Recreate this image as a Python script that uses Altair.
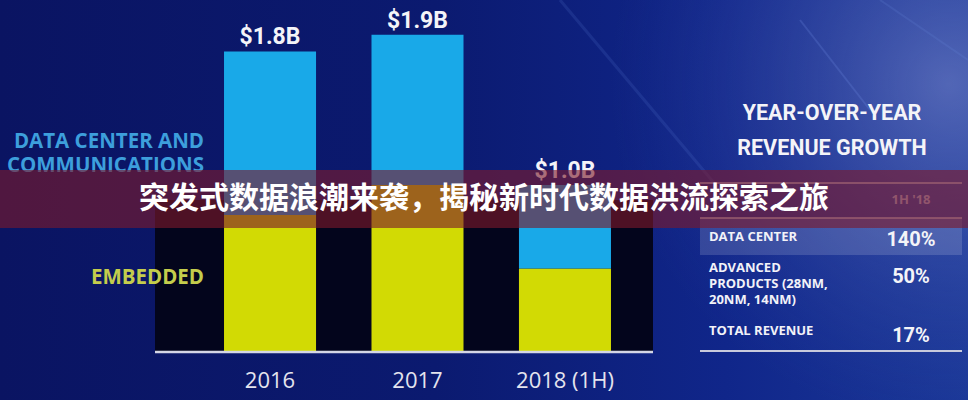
import altair as alt
import pandas as pd

# Revenue by segment, in billions of dollars
years = ["2016", "2017", "2018 (1H)"]
embedded = [0.82, 1.00, 0.50]
data_center = [0.98, 0.90, 0.50]
segments = ["EMBEDDED", "DATA CENTER AND COMMUNICATIONS"]
segment_labels = [["EMBEDDED"], ["DATA CENTER AND", "COMMUNICATIONS"]]

# Year-over-year growth table
growth_heading = ["YEAR-OVER-YEAR", "REVENUE GROWTH"]
growth_period = "1H '18"
growth_metrics = [["DATA CENTER"], ["ADVANCED", "PRODUCTS (28NM,", "20NM, 14NM)"], ["TOTAL REVENUE"]]
growth_values = ["140%", "50%", "17%"]

headline = "突发式数据浪潮来袭，揭秘新时代数据洪流探索之旅"

YELLOW = "#d2da04"
BLUE = "#19a9e8"
NARROW = "Roboto"
SANS = "Open Sans"

rows = []
for i, yr in enumerate(years):
    rows.append({"year": yr, "segment": segments[0], "value": embedded[i], "ord": 0})
    rows.append({"year": yr, "segment": segments[1], "value": data_center[i], "ord": 1})
bar_df = pd.DataFrame(rows)

totals = [e + d for e, d in zip(embedded, data_center)]
total_df = pd.DataFrame({
    "year": years,
    "total": totals,
    "label": [f"${t:.1f}B" for t in totals],
})

x_scale = alt.Scale(domain=years, range=[155, 680], paddingInner=0.376, paddingOuter=0.468)
y_scale = alt.Scale(domain=[0, 2.0], range=[352, 18])

one = alt.Data(values=[{"k": 0}])


def deco_rect(x, x2, y, y2, **kw):
    return alt.Chart(one).mark_rect(**kw).encode(
        x=alt.value(x), x2=alt.value(x2), y=alt.value(y), y2=alt.value(y2))


def deco_rule(x, x2, y, y2=None, **kw):
    enc = dict(x=alt.value(x), x2=alt.value(x2), y=alt.value(y))
    if y2 is not None:
        enc["y2"] = alt.value(y2)
    return alt.Chart(one).mark_rule(**kw).encode(**enc)


def deco_text(text, x, y, **kw):
    return alt.Chart(one).mark_text(text=text, **kw).encode(x=alt.value(x), y=alt.value(y))


# Backdrop: deep navy, brightening toward the right, with a soft glow
backdrop = deco_rect(0, 968, 0, 400, color=alt.LinearGradient(
    gradient="linear", x1=0, x2=1, y1=0, y2=0,
    stops=[alt.GradientStop(color="#0a1462", offset=0),
           alt.GradientStop(color="#0b1a70", offset=0.45),
           alt.GradientStop(color="#10268a", offset=0.75),
           alt.GradientStop(color="#1b3898", offset=1)]))
glow = deco_rect(0, 968, 0, 400, color=alt.RadialGradient(
    gradient="radial", x1=0.98, y1=0.38, x2=0.98, y2=0.38, r1=0, r2=0.35,
    stops=[alt.GradientStop(color="rgba(150,160,220,0.45)", offset=0),
           alt.GradientStop(color="rgba(60,80,170,0.0)", offset=1)]))
streaks = alt.layer(
    deco_rule(560, 720, 0, 190, color="#5a78d0", opacity=0.18, strokeWidth=3),
    deco_rule(800, 870, 20, 110, color="#6a88e0", opacity=0.25, strokeWidth=2),
    deco_rule(880, 968, 0, 60, color="#6a88e0", opacity=0.18, strokeWidth=2),
)
panel = deco_rect(155, 653, 200, 352, color="#03051c")

bars = alt.Chart(bar_df).mark_bar().encode(
    x=alt.X("year:N", sort=years, scale=x_scale, axis=None),
    y=alt.Y("value:Q", stack="zero", scale=y_scale, axis=None),
    color=alt.Color("segment:N", scale=alt.Scale(domain=segments, range=[YELLOW, BLUE]), legend=None),
    order=alt.Order("ord:Q"),
)

baseline = deco_rule(155, 653, 352, color="#d4d6e6", strokeWidth=2.5)

value_labels = alt.Chart(total_df).mark_text(
    font=NARROW, fontWeight="bold", fontSize=23, color="#f4f4f8",
    baseline="alphabetic", dy=-7,
).encode(
    x=alt.X("year:N", sort=years, scale=x_scale, axis=None),
    y=alt.Y("total:Q", scale=y_scale, axis=None),
    text="label:N",
)

year_labels = alt.Chart(total_df).mark_text(
    font=SANS, fontSize=22, color="#e4e4ee", baseline="middle",
).encode(
    x=alt.X("year:N", sort=years, scale=x_scale, axis=None),
    y=alt.value(381),
    text="year:N",
)

seg_dc = deco_text(segment_labels[1], 204, 142, font=SANS, fontWeight="bold", fontSize=20.5,
                   color="#3d9fdc", align="right", baseline="middle", lineHeight=24)
seg_emb = deco_text(segment_labels[0], 204, 278, font=SANS, fontWeight="bold", fontSize=20.5,
                    color="#c4cd4c", align="right", baseline="middle")

# Growth table
heading = deco_text(growth_heading, 832, 114, font=NARROW, fontWeight="bold", fontSize=21.5,
                    color="#f4f4f8", align="center", baseline="middle", lineHeight=35)
period = deco_text(growth_period, 911, 200, font=SANS, fontWeight="bold", fontSize=13,
                   color="#b4b6d6", align="center", baseline="middle")
highlight = deco_rect(700, 962, 218, 255, color="#ffffff", opacity=0.15)
table_lines = alt.layer(
    deco_rule(700, 962, 183, color="#c8cadc", strokeWidth=1.5),
    deco_rule(700, 962, 218, color="#c8cadc", strokeWidth=1.5),
    deco_rule(700, 962, 351, color="#c8cadc", strokeWidth=2),
)
metric_rows_y = [237, 268, 331]
value_rows_y = [240, 277, 336]
table_text = []
for metric, growth, my, vy in zip(growth_metrics, growth_values, metric_rows_y, value_rows_y):
    table_text.append(deco_text(metric, 709, my, font=SANS, fontWeight="bold", fontSize=13,
                                color="#f2f2f8", align="left", baseline="middle", lineHeight=16))
    table_text.append(deco_text(growth, 911, vy, font=NARROW, fontWeight="bold", fontSize=20,
                                color="#f4f4f8", align="center", baseline="middle"))

# Headline banner across the slide
banner = deco_rect(0, 968, 170, 228, color="#7c1a2c", opacity=0.62)
banner_text = deco_text(headline, 484, 199, font="Noto Sans CJK SC", fontWeight="bold",
                        fontSize=30, color="#ffffff", align="center", baseline="middle")

chart = alt.layer(
    backdrop, glow, streaks, panel,
    bars, baseline, value_labels, year_labels, seg_dc, seg_emb,
    highlight, table_lines, heading, period, *table_text,
    banner, banner_text,
).properties(
    width=968, height=400, padding=0, autosize=alt.AutoSizeParams(type="none"),
).configure(
    background="#0a1462",
).configure_view(stroke=None)

chart.save("out.html", embed_options={"renderer": "svg", "actions": False})
